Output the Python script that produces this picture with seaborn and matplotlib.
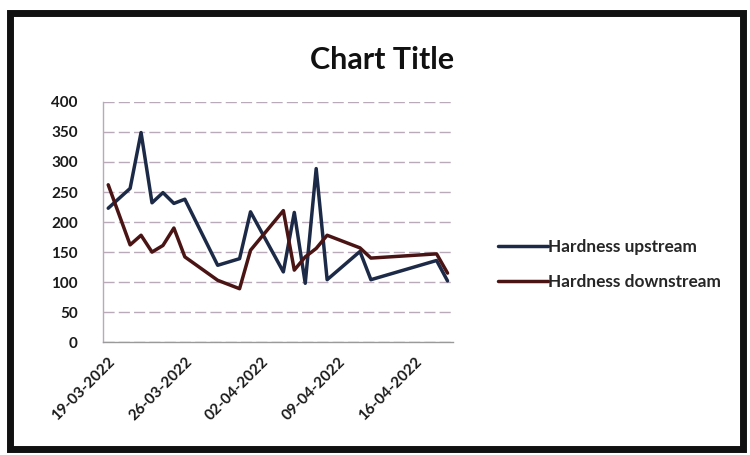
import matplotlib
matplotlib.use("Agg")
import matplotlib.pyplot as plt
import matplotlib.dates as mdates
from matplotlib.patches import Rectangle
import numpy as np
import pandas as pd
import seaborn as sns

# Sampling dates (days of 2022)
dates = ["2022-03-19", "2022-03-21", "2022-03-22", "2022-03-23", "2022-03-24",
         "2022-03-25", "2022-03-26", "2022-03-29", "2022-03-31", "2022-04-01",
         "2022-04-04", "2022-04-05", "2022-04-06", "2022-04-07", "2022-04-08",
         "2022-04-11", "2022-04-12", "2022-04-18", "2022-04-19"]

hardness_upstream = [223, 256, 349, 232, 249, 231, 238, 128, 139, 217,
                     117, 216, 98, 289, 104, 151, 104, 136, 102]
hardness_downstream = [262, 162, 178, 150, 161, 190, 142, 103, 89, 153,
                       219, 120, 142, 156, 178, 157, 140, 147, 115]

series_names = ["Hardness upstream", "Hardness downstream"]
series_colors = ["#1c2a48", "#4a1414"]
y_ticks = [0, 50, 100, 150, 200, 250, 300, 350, 400]
x_tick_dates = ["2022-03-19", "2022-03-26", "2022-04-02", "2022-04-09", "2022-04-16"]

df = pd.DataFrame({
    "Date": pd.to_datetime(dates * 2),
    "Hardness": hardness_upstream + hardness_downstream,
    "Series": [series_names[0]] * len(dates) + [series_names[1]] * len(dates),
})

sns.set_theme(style="white")
plt.rcParams["font.family"] = ["Lato", "DejaVu Sans"]

fig = plt.figure(figsize=(7.5, 4.55), dpi=100)
fig.patch.set_facecolor("white")
ax = fig.add_axes([0.137, 0.248, 0.467, 0.528])

sns.lineplot(data=df, x="Date", y="Hardness", hue="Series",
             palette=dict(zip(series_names, series_colors)),
             linewidth=2.5, ax=ax, legend=False, estimator=None)

# Axis range: half a day either side, points centred in their day slot
start = pd.Timestamp(dates[0]) - pd.Timedelta(hours=12)
end = pd.Timestamp(dates[-1]) + pd.Timedelta(hours=12)
ax.set_xlim(start, end)
ax.set_ylim(0, 400)
ax.set_yticks(y_ticks)
ax.set_yticklabels([str(v) for v in y_ticks], fontsize=11, fontweight="bold",
                   color="#1a1a1a")
ax.set_xticks(pd.to_datetime(x_tick_dates))
ax.xaxis.set_major_formatter(mdates.DateFormatter("%d-%m-%Y"))
for lbl in ax.get_xticklabels():
    lbl.set_rotation(45)
    lbl.set_ha("right")
    lbl.set_rotation_mode("anchor")
    lbl.set_fontsize(11)
    lbl.set_fontweight("bold")
    lbl.set_color("#1a1a1a")
ax.tick_params(axis="y", length=0, pad=18)
ax.tick_params(axis="x", length=0, pad=9)
ax.set_xlabel("")
ax.set_ylabel("")

ax.grid(axis="y", color="#b8aab8", linewidth=1.0, linestyle=(0, (8, 3)))
ax.set_axisbelow(True)
for side in ["top", "right"]:
    ax.spines[side].set_visible(False)
ax.spines["left"].set_color("#b8aab8")
ax.spines["bottom"].set_color("#9a9a9a")
ax.spines["left"].set_linewidth(1.0)
ax.spines["bottom"].set_linewidth(1.0)

fig.text(0.51, 0.868, "Chart Title", ha="center", va="center",
         fontsize=22, fontweight="bold", color="#111111")

# Legend on the right
handles = [plt.Line2D([], [], color=c, linewidth=2.5) for c in series_colors]
fig.legend(handles, series_names, loc="center left",
           bbox_to_anchor=(0.643, 0.418), frameon=False,
           handlelength=2.9, handletextpad=0.0, labelspacing=1.1,
           prop={"weight": "bold", "size": 12.4})

# Printed chart border
fig.patches.append(Rectangle((0.013, 0.013), 0.978, 0.958, transform=fig.transFigure,
                             fill=False, edgecolor="#111111", linewidth=5))

fig.savefig("out.png", dpi=100, facecolor="white")
